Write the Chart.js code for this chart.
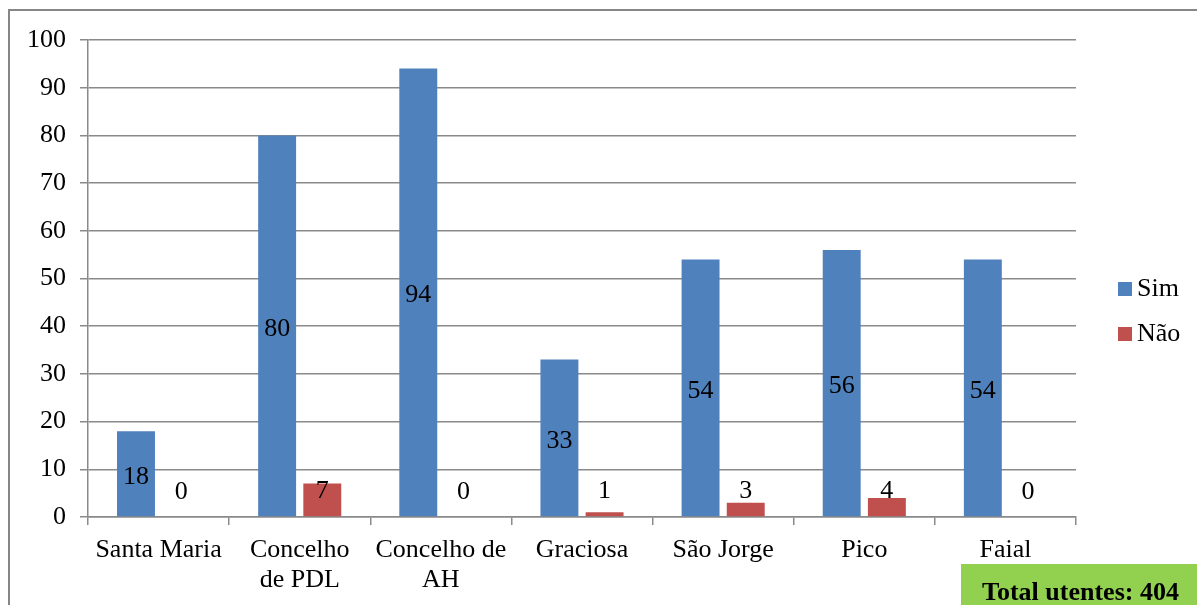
<!DOCTYPE html>
<html lang="pt">
<head>
<meta charset="UTF-8">
<title>Utentes por ilha</title>
<script src="https://cdn.jsdelivr.net/npm/chart.js"></script>
<style>
  body { margin: 0; background: #fff; overflow: hidden; font-family: "Liberation Serif", "Times New Roman", serif; }
  #frame { position: absolute; left: 8px; top: 9px; width: 1300px; height: 700px; border: 2px solid #868686; box-sizing: border-box; }
  #chartCanvas { position: absolute; left: 0; top: 0; }
  #total { position: absolute; left: 961px; top: 564px; width: 236px; height: 41px; background: #92D050;
           font: bold 26px "Liberation Serif", serif; color: #000; line-height: 56px; padding-left: 21px; box-sizing: border-box; white-space: nowrap; }
</style>
</head>
<body>
<div id="frame"></div>
<canvas id="chartCanvas" width="1197" height="605"></canvas>
<div id="total">Total utentes: 404</div>

<script>
var categories = ["Santa Maria", ["Concelho", "de PDL"], ["Concelho de", "AH"], "Graciosa", "São Jorge", "Pico", "Faial"];
var simValues = [18, 80, 94, 33, 54, 56, 54];
var naoValues = [0, 7, 0, 1, 3, 4, 0];
var yTicks = [0, 10, 20, 30, 40, 50, 60, 70, 80, 90, 100];

var FONT = "'Liberation Serif'";
var gridColor = "#8a8a8a";

// value labels in the bars, pushed up a bit when the bar is too short
var valueLabels = {
    id: "valueLabels",
    afterDatasetsDraw: function(chart) {
        var ctx = chart.ctx;
        ctx.save();
        ctx.font = "26px " + FONT;
        ctx.fillStyle = "#000";
        ctx.textAlign = "center";
        ctx.textBaseline = "middle";
        chart.data.datasets.forEach(function(ds, i) {
            chart.getDatasetMeta(i).data.forEach(function(bar, j) {
                var y = Math.min((bar.y + bar.base) / 2 + 3, bar.base - 25);
                ctx.fillText(ds.data[j], bar.x, y);
            });
        });
        ctx.restore();
    }
};

// legend on the right, like the Excel one
var sideLegend = {
    id: "sideLegend",
    afterDraw: function(chart) {
        var ctx = chart.ctx;
        ctx.save();
        ctx.font = "26px " + FONT;
        ctx.textBaseline = "middle";
        chart.data.datasets.forEach(function(ds, i) {
            var cy = 289 + i * 45;
            ctx.fillStyle = ds.backgroundColor;
            ctx.fillRect(1118, cy - 7, 14, 14);
            ctx.fillStyle = "#000";
            ctx.fillText(ds.label, 1137, cy);
        });
        ctx.restore();
    }
};

new Chart(document.getElementById("chartCanvas").getContext("2d"), {
    type: "bar",
    data: {
        labels: categories,
        datasets: [
            { label: "Sim", data: simValues, backgroundColor: "#4F81BD" },
            { label: "Não", data: naoValues, backgroundColor: "#C0504D" }
        ]
    },
    options: {
        responsive: false,
        animation: false,
        categoryPercentage: 0.64,
        barPercentage: 0.84,
        layout: { padding: { top: 40, right: 121, left: 0, bottom: 0 } },
        plugins: { legend: { display: false }, tooltip: { enabled: false } },
        scales: {
            x: {
                grid: { offset: true, drawOnChartArea: false, drawTicks: true, tickLength: 8, color: gridColor, lineWidth: 1.5 },
                border: { color: gridColor, width: 1.5 },
                ticks: { color: "#000", font: { family: FONT, size: 26, lineHeight: 1.12 }, padding: 11, maxRotation: 0, autoSkip: false },
                afterFit: function(scale) { scale.height = 88; }
            },
            y: {
                min: 0,
                max: 100,
                afterBuildTicks: function(scale) { scale.ticks = yTicks.map(function(v) { return { value: v }; }); },
                grid: { color: gridColor, lineWidth: 1.5, tickLength: 8 },
                border: { color: gridColor, width: 1.5 },
                ticks: { color: "#000", font: { family: FONT, size: 26 }, padding: 14 },
                afterFit: function(scale) { scale.width = 88; }
            }
        }
    },
    plugins: [valueLabels, sideLegend]
});
</script>
</body>
</html>
